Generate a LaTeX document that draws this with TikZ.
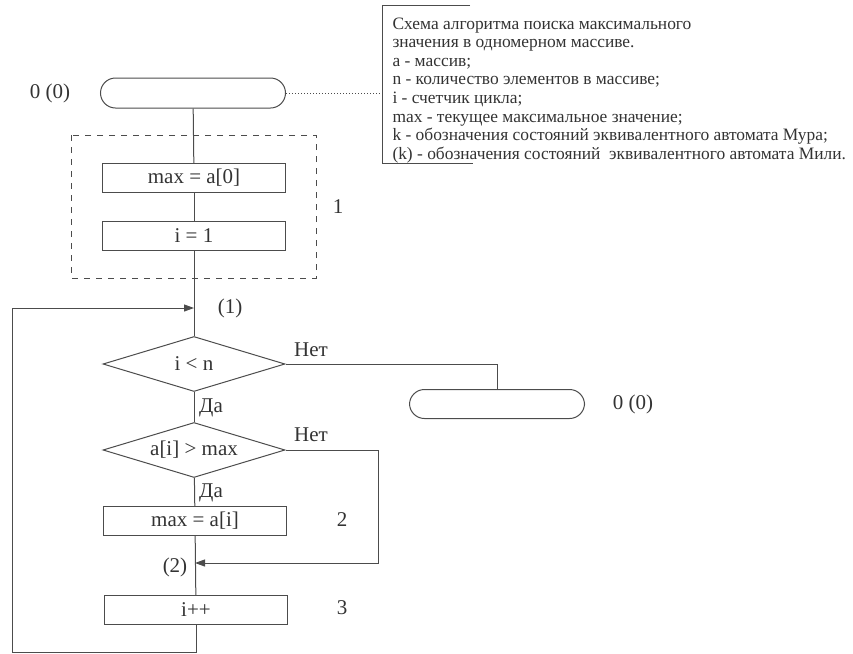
\documentclass[tikz,border=0pt]{standalone}
\usepackage{fontspec}
\setmainfont{Liberation Serif}
\usetikzlibrary{shapes.geometric,arrows.meta}

\begin{document}
\begin{tikzpicture}[x=0.5pt,y=-0.5pt,
  line width=0.5pt,draw=black!70,text=black!80,
  font=\fontsize{10.5}{12}\selectfont,
  term/.style={draw,rectangle,rounded corners=7.5pt,minimum width=92.5pt,minimum height=15pt,inner sep=0pt},
  proc/.style={draw,rectangle,minimum width=91.5pt,minimum height=14.5pt,inner sep=0pt},
  cond/.style={draw,diamond,aspect=3.3,minimum width=91pt,minimum height=27.5pt,inner sep=0pt},
  lbl/.style={inner sep=1pt},
  arr/.style={-{Triangle[length=5pt,width=3.5pt]}}]
\useasboundingbox (0,0) rectangle (853,654);
% Legend
\draw (470,5) -- (382,5) -- (382,163) -- (473,163);
\coordinate (note) at (382,93);
\node[anchor=north west,inner sep=0pt,align=left,
  font=\fontsize{8.7}{9.3}\selectfont] (legend) at (392,17)
  {Схема алгоритма поиска максимального\\
   значения в одномерном массиве.\\
   a - массив;\\
   n - количество элементов в массиве;\\
   i - счетчик цикла;\\
   max - текущее максимальное значение;\\
   k - обозначения состояний эквивалентного автомата Мура;\\
   (k) - обозначения состояний\ \ эквивалентного автомата Мили.};
% Blocks
\node[term] (start) at (193,93) {};
\node[lbl] (s0) at (50,93) {0 (0)};
\draw[dashed] (71,135) rectangle (316,278);
\node[lbl] (s1) at (338,207) {1};
\node[proc] (init1) at (194,178) {max = a[0]};
\node[proc] (init2) at (194,236) {i = 1};
\coordinate (j1) at (194,308);
\node[lbl] (m1) at (230,308) {(1)};
\node[cond] (cond1) at (194,364) {i < n};
\node[cond] (cond2) at (194,450) {a[i] > max};
\node[proc] (upd) at (195,521) {max = a[i]};
\node[lbl] (s2) at (342,520) {2};
\coordinate (j2) at (195,563);
\node[lbl] (m2) at (175,567) {(2)};
\node[proc] (inc) at (196,610) {i++};
\node[lbl] (s3) at (342,608) {3};
\node[term,minimum width=87.5pt,minimum height=14.5pt] (stop) at (497,404) {};
\node[lbl] (s0b) at (633,404) {0 (0)};
% Connectors
\draw[densely dotted] (start.east) -- (note);
\draw (start) -- (init1);
\draw (init1) -- (init2);
\draw (init2) -- (cond1);
\draw (cond1) -- (cond2);
\draw (cond2) -- (upd);
\draw (upd) -- (inc);
\coordinate (loopl) at (12,652);
\draw[arr] (inc.south) |- (loopl) |- (j1);
\draw (cond1.east) -| (stop.north);
\coordinate (rc) at (378,563);
\draw[arr] (cond2.east) -| (rc) -- (j2);
% Branch labels
\node[lbl] (n1) at (311,350) {Нет};
\node[lbl] (y1) at (211,408) {Да};
\node[lbl] (n2) at (311,435) {Нет};
\node[lbl] (y2) at (211,493) {Да};
\end{tikzpicture}
\end{document}
